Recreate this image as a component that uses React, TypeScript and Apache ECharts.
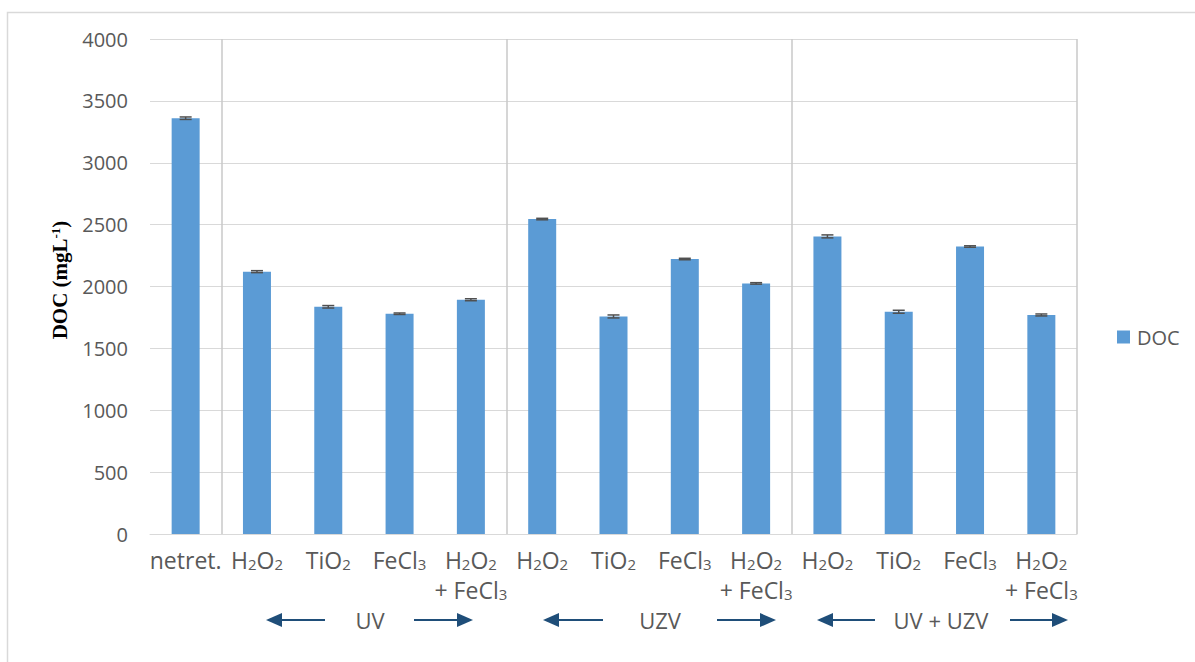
import React, { useEffect, useRef } from "react";
import * as echarts from "echarts";

const categories = [
  "netret.",
  "H2O2",
  "TiO2",
  "FeCl3",
  "H2O2 + FeCl3",
  "H2O2",
  "TiO2",
  "FeCl3",
  "H2O2 + FeCl3",
  "H2O2",
  "TiO2",
  "FeCl3",
  "H2O2 + FeCl3",
];
const docValues = [3360, 2120, 1836, 1780, 1893, 2545, 1758, 2222, 2025, 2405, 1796, 2323, 1770];
const docErrors = [10, 8, 10, 6, 8, 6, 12, 6, 6, 12, 12, 6, 8];
const groupLabels = ["UV", "UZV", "UV + UZV"];
const separatorIndices = [1, 5, 9];
const seriesName = "DOC";
const yTitleMain = "DOC (mgL";
const yTitleSup = "-1";

const TXT = "#595959";
const BAR = "#5B9BD5";
const ARROW = "#1F4E79";
const FONT = "'Open Sans', sans-serif";

// layout of group arrows (pixels)
const groupLayout = [
  { cx: 370, lt: 266, le: 325, rs: 414, rt: 473 },
  { cx: 660, lt: 543, le: 603, rs: 717, rt: 776 },
  { cx: 941, lt: 817, le: 875, rs: 1010, rt: 1068 },
];
const arrowY = 620;

function buildArrows(): any[] {
  const out: any[] = [];
  groupLayout.forEach((g, i) => {
    out.push({
      type: "line",
      shape: { x1: g.lt + 12, y1: arrowY, x2: g.le, y2: arrowY },
      style: { stroke: ARROW, lineWidth: 2 },
    });
    out.push({
      type: "polygon",
      shape: { points: [[g.lt, arrowY], [g.lt + 16, arrowY - 7], [g.lt + 16, arrowY + 7]] },
      style: { fill: ARROW },
    });
    out.push({
      type: "line",
      shape: { x1: g.rs, y1: arrowY, x2: g.rt - 12, y2: arrowY },
      style: { stroke: ARROW, lineWidth: 2 },
    });
    out.push({
      type: "polygon",
      shape: { points: [[g.rt, arrowY], [g.rt - 16, arrowY - 7], [g.rt - 16, arrowY + 7]] },
      style: { fill: ARROW },
    });
    out.push({
      type: "text",
      x: g.cx,
      y: arrowY,
      style: {
        text: groupLabels[i],
        fill: TXT,
        font: `22px ${FONT}`,
        align: "center",
        verticalAlign: "middle",
      },
    });
  });
  return out;
}

export default function App() {
  const ref = useRef<HTMLDivElement>(null);
  useEffect(() => {
    if (!ref.current) return;
    const chart = echarts.init(ref.current, null, { renderer: "svg" });
    const option: any = {
      animation: false,
      backgroundColor: "#ffffff",
      textStyle: { fontFamily: FONT },
      grid: { left: 150, right: 118, top: 39, bottom: 128, containLabel: false },
      legend: {
        data: [seriesName],
        left: 1117,
        top: 327,
        padding: 0,
        icon: "rect",
        itemWidth: 13,
        itemHeight: 13,
        textStyle: { color: TXT, fontSize: 20, fontFamily: FONT, padding: [0, 0, 0, 2] },
      },
      xAxis: {
        type: "category",
        data: categories,
        axisLine: { show: true, lineStyle: { color: "#D9D9D9", width: 1 } },
        axisTick: { show: false },
        splitLine: {
          show: true,
          interval: (idx: number) => separatorIndices.indexOf(idx) >= 0,
          lineStyle: { color: "#C8C8C8", width: 1.5 },
        },
        axisLabel: {
          interval: 0,
          margin: 11,
          color: TXT,
          fontSize: 23,
          lineHeight: 30,
          fontFamily: FONT,
          formatter: (v: string) =>
            v.replace(" + ", "\n+ ").replace(/(\d)/g, "{sub|$1}"),
          rich: {
            sub: { fontSize: 15, lineHeight: 18, color: TXT, fontFamily: FONT, padding: [8, 0, 0, 0] },
          },
        },
      },
      yAxis: {
        type: "value",
        min: 0,
        max: 4000,
        interval: 500,
        axisLine: { show: false },
        axisTick: { show: false },
        axisLabel: {
          color: TXT,
          fontSize: 20,
          margin: 22,
          fontFamily: FONT,
          formatter: (v: number) => String(v),
        },
        splitLine: { lineStyle: { color: "#D9D9D9", width: 1 } },
      },
      series: [
        {
          name: seriesName,
          type: "bar",
          data: docValues,
          barWidth: 28,
          itemStyle: { color: BAR },
        },
        {
          name: "err",
          type: "custom",
          data: docValues.map((v, i) => [i, v, docErrors[i]]),
          encode: { x: 0, y: 1 },
          z: 10,
          silent: true,
          renderItem: (params: any, api: any) => {
            const i = api.value(0);
            const v = api.value(1);
            const e = api.value(2);
            const hi = api.coord([i, v + e]);
            const lo = api.coord([i, v - e]);
            const hw = 6;
            const st = { stroke: "#505050", lineWidth: 1.5 };
            return {
              type: "group",
              children: [
                { type: "line", shape: { x1: hi[0], y1: hi[1], x2: lo[0], y2: lo[1] }, style: st },
                { type: "line", shape: { x1: hi[0] - hw, y1: hi[1], x2: hi[0] + hw, y2: hi[1] }, style: st },
                { type: "line", shape: { x1: lo[0] - hw, y1: lo[1], x2: lo[0] + hw, y2: lo[1] }, style: st },
              ],
            };
          },
        },
      ],
      graphic: [
        {
          type: "rect",
          shape: { x: 7.5, y: 12.5, width: 1200, height: 700 },
          style: { fill: "none", stroke: "#D9D9D9", lineWidth: 1.5 },
          silent: true,
        },
        {
          type: "text",
          x: 60,
          y: 280,
          rotation: Math.PI / 2,
          style: {
            text: `{b|${yTitleMain}}{sup|${yTitleSup}}{b|)}`,
            align: "center",
            verticalAlign: "middle",
            rich: {
              b: { fontFamily: "'Liberation Serif', serif", fontWeight: "bold", fontSize: 21, fill: "#000", color: "#000" },
              sup: {
                fontFamily: "'Liberation Serif', serif",
                fontWeight: "bold",
                fontSize: 13,
                fill: "#000",
                color: "#000",
                padding: [0, 0, 10, 0],
              },
            },
          },
        },
        ...buildArrows(),
      ],
    };
    chart.setOption(option);
    return () => chart.dispose();
  }, []);
  return (
    <div
      ref={ref}
      style={{ position: "absolute", left: 0, top: 0, width: 1195, height: 662 }}
    />
  );
}
